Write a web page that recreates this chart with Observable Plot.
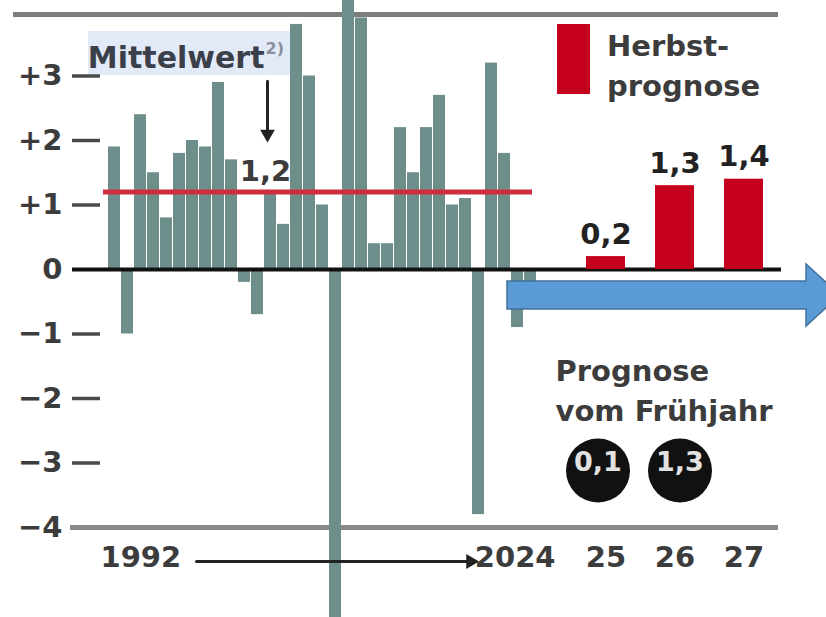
<!DOCTYPE html>
<html>
<head>
<meta charset="utf-8">
<script src="https://cdn.jsdelivr.net/npm/d3@7"></script>
<script src="https://cdn.jsdelivr.net/npm/@observablehq/plot@0.6"></script>
<style>
  html, body { margin: 0; padding: 0; background: #fff; }
  #wrap { position: relative; width: 826px; height: 617px; overflow: hidden; font-family: "DejaVu Sans", sans-serif; font-weight: bold; }
  #wrap svg { position: absolute; left: 0; top: 0; }
  #hl { position: absolute; left: 88px; top: 31px; width: 206px; height: 44px; background: #e3eaf7; }
  #legend { position: absolute; left: 557px; top: 24px; }
  #legend .sw { position: absolute; left: 0; top: 0; width: 33px; height: 70px; background: #c4001c; }
  #legend .lb { position: absolute; left: 50px; top: 2px; font-size: 29px; line-height: 40px; color: #3c3c3c; white-space: nowrap; }
</style>
</head>
<body>
<div id="wrap">
  <div id="hl"></div>
</div>
<script>
// ---------- data ----------
const years = ["1992","1993","1994","1995","1996","1997","1998","1999","2000","2001","2002",
  "2003","2004","2005","2006","2007","2008","2009","2010","2011","2012","2013","2014","2015",
  "2016","2017","2018","2019","2020","2021","2022","2023","2024"];
const growth = [1.9,-1.0,2.4,1.5,0.8,1.8,2.0,1.9,2.9,1.7,-0.2,
  -0.7,1.2,0.7,3.8,3.0,1.0,-5.7,4.2,3.9,0.4,0.4,2.2,1.5,
  2.2,2.7,1.0,1.1,-3.8,3.2,1.8,-0.9,-0.5];
const meanValue = 1.2;
const meanAnnotYear = "2004";
const forecastYears = ["2025","2026","2027"];
const forecastLabels = ["25","26","27"];
const autumnForecast = [0.2,1.3,1.4];
const springForecast = [0.1,1.3];
const yTicks = [3,2,1,0,-1,-2,-3,-4];
const yTickLabels = ["+3","+2","+1","0","\u22121","\u22122","\u22123","\u22124"];
const legendText = ["Herbst-","prognose"];
const springTitle = "Prognose\nvom Frühjahr";

// ---------- helpers ----------
const fmt = v => v.toLocaleString("de-DE", {minimumFractionDigits: 1, maximumFractionDigits: 1});
const W = 826, H = 617;
const Y = {domain: [-4, 4], range: [527, 11], axis: null};
const font = {fontFamily: "DejaVu Sans", fontWeight: "bold", fontSize: "29px", background: "transparent", color: "#3c3c3c"};
const textColor = "#3c3c3c";

const hist = years.map((year, i) => ({year, value: growth[i]}));
const fc = forecastYears.map((year, i) => ({year, label: forecastLabels[i], value: autumnForecast[i]}));
const sp = springForecast.map((value, i) => ({year: forecastYears[i], value}));

// block arrow (decoration) drawn with the plot's scales
function blockArrow(index, {x, y}, values, dims) {
  const x0 = x(years[years.length - 2]) - 4;
  const cy = y(0) + 26;
  const headStart = dims.width - 20, tip = dims.width + 14;
  const bh = 14, hh = 31;
  const d = `M${x0},${cy - bh}L${headStart},${cy - bh}L${headStart},${cy - hh}L${tip},${cy}` +
            `L${headStart},${cy + hh}L${headStart},${cy + bh}L${x0},${cy + bh}Z`;
  const g = d3.create("svg:g");
  g.append("path").attr("d", d).attr("fill", "#5b9bd5").attr("stroke", "#41719c").attr("stroke-width", 1.5);
  return g.node();
}

// ---------- historical plot ----------
const plotA = Plot.plot({
  width: W, height: H,
  marginLeft: 13, marginRight: 48, marginTop: 0, marginBottom: 0,
  x: {type: "band", domain: years, range: [100.8, 542.4], padding: 0.08, axis: null},
  y: Y,
  style: font,
  marks: [
    Plot.ruleY([4], {stroke: "#7d7d7d", strokeWidth: 5, dy: 3}),
    Plot.ruleY([-4], {stroke: "#8a8a8a", strokeWidth: 5, insetLeft: 57}),
    Plot.ruleY(yTicks.filter(t => t !== 0 && t !== -4), {stroke: "#4a4a4a", strokeWidth: 3.5, insetLeft: 59, insetRight: 678}),
    Plot.text(yTicks, {y: d => d, text: (d, i) => yTickLabels[i], frameAnchor: "left", textAnchor: "end", dx: 49, fill: textColor}),
    Plot.barY(hist, {x: "year", y: "value", fill: "#6e8e8c"}),
    Plot.ruleY([meanValue], {stroke: "#cf2f3c", strokeWidth: 5, insetLeft: 90, insetRight: 246}),
    Plot.ruleY([0], {stroke: "#111", strokeWidth: 4, insetLeft: 59, insetRight: -3}),
    // mean annotation
    Plot.text([meanValue], {x: () => meanAnnotYear, y: d => d, text: () => "Mittelwert", textAnchor: "end", dx: -6, dy: -134, fontSize: 30, fill: "#3a3f4a"}),
    Plot.text([meanValue], {x: () => meanAnnotYear, y: d => d, text: () => "2)", textAnchor: "start", dx: -5, dy: -143, fontSize: 16, fill: "#8a8f9a"}),
    Plot.arrow([meanValue], {x1: () => meanAnnotYear, x2: () => meanAnnotYear, y1: d => d + 1.72, y2: d => d + 0.95, dx: -3, stroke: "#222", strokeWidth: 3, headLength: 0}),
    Plot.dot([meanValue], {x: () => meanAnnotYear, y: d => d + 0.9, dx: -3, symbol: "triangle", rotate: 180, r: 5.5, fill: "#222"}),
    Plot.text([meanValue], {x: () => meanAnnotYear, y: d => d, text: d => fmt(d), dx: -5, dy: -20, fill: textColor}),
    // x labels
    Plot.text([years[0]], {x: d => d, y: () => -4, text: d => d, textAnchor: "start", dx: -14, dy: 30, fill: textColor}),
    Plot.text([years[years.length - 1]], {x: d => d, y: () => -4, text: d => d, textAnchor: "end", dx: 25, dy: 30, fill: textColor}),
    Plot.arrow([0], {x1: () => years[0], x2: () => years[years.length - 1], y1: () => -4, y2: () => -4, dy: 34,
      insetStart: 82, insetEnd: 64, stroke: "#222", strokeWidth: 3, headLength: 0}),
    Plot.dot([years[years.length - 1]], {x: d => d, y: () => -4, dy: 34, dx: -60, symbol: "triangle", rotate: 90, r: 5.5, fill: "#222"}),
    blockArrow
  ]
});

// ---------- forecast plot ----------
const plotB = Plot.plot({
  width: W, height: H, margin: 0,
  x: {type: "band", domain: forecastYears, range: [555, 795], paddingInner: 0.4286, paddingOuter: 0.4286, axis: null},
  y: Y,
  style: font,
  marks: [
    Plot.barY(fc, {x: "year", y: "value", fill: "#c4001c"}),
    Plot.text(fc, {x: "year", y: "value", text: d => fmt(d.value), dy: -22, fill: "#222"}),
    Plot.text(fc, {x: "year", y: () => -4, text: "label", dy: 30, fill: textColor}),
    Plot.text([springTitle], {frameAnchor: "top-left", dx: 555, dy: 352, textAnchor: "start", lineAnchor: "top", lineHeight: 1.38, fill: textColor}),
    Plot.dot(sp.slice(0, 1), {x: "year", frameAnchor: "bottom", dy: -147, dx: -8, r: 32, fill: "#111"}),
    Plot.text(sp.slice(0, 1), {x: "year", frameAnchor: "bottom", dy: -147, dx: -8, text: d => fmt(d.value), fill: "#e2e2e2", fontSize: 27}),
    Plot.dot(sp.slice(1), {x: "year", frameAnchor: "bottom", dy: -147, dx: 5, r: 32, fill: "#111"}),
    Plot.text(sp.slice(1), {x: "year", frameAnchor: "bottom", dy: -147, dx: 5, text: d => fmt(d.value), fill: "#e2e2e2", fontSize: 27})
  ]
});

const wrap = document.getElementById("wrap");
wrap.appendChild(plotA);
wrap.appendChild(plotB);

const legend = document.createElement("div");
legend.id = "legend";
legend.innerHTML = `<div class="sw"></div><div class="lb">${legendText.join("<br>")}</div>`;
wrap.appendChild(legend);
</script>
</body>
</html>
